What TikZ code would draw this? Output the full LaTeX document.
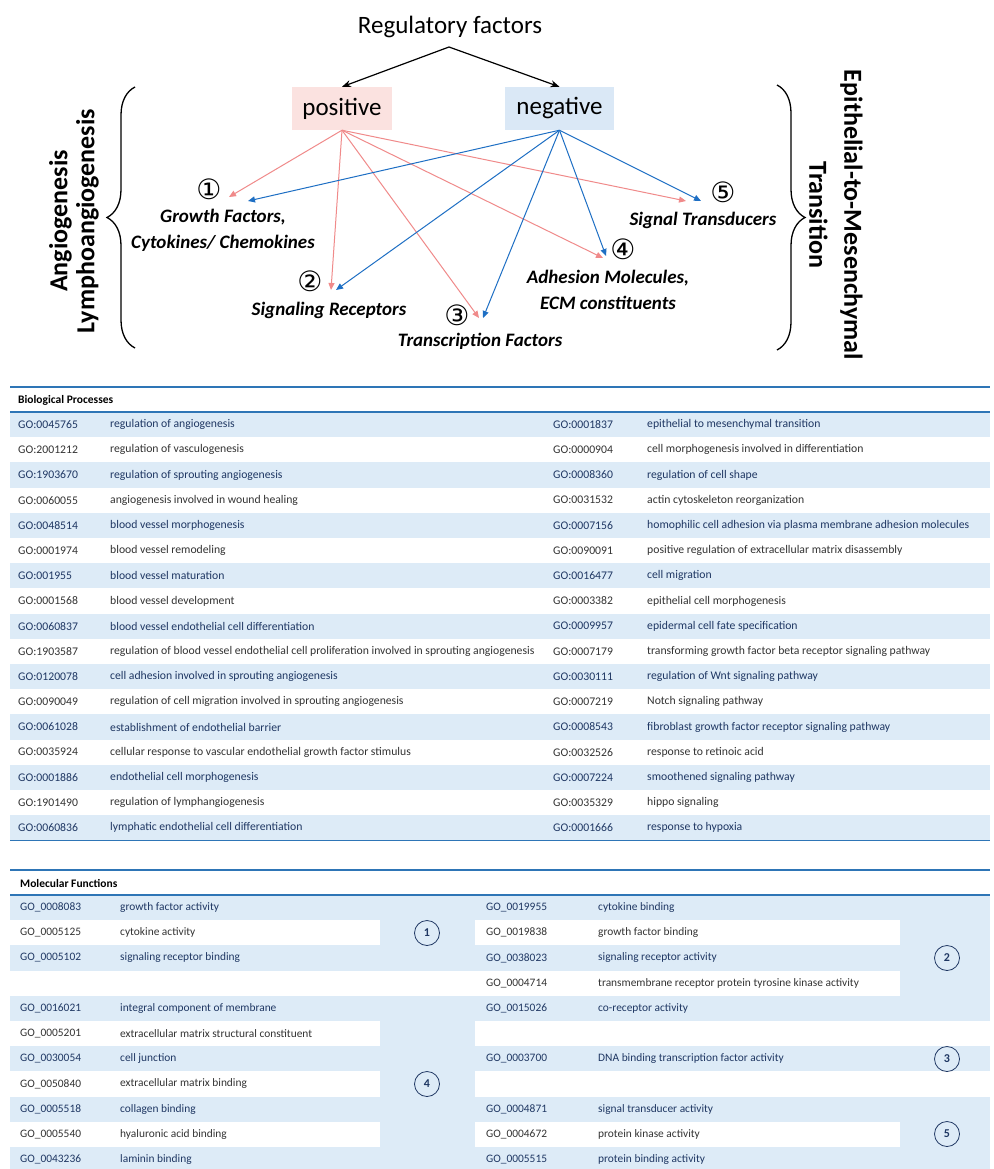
\documentclass[tikz,border=0pt]{standalone}
\usepackage{fontspec}
\setmainfont{Carlito}
\newfontfamily\dejavu{DejaVu Sans}
\usetikzlibrary{arrows.meta,decorations.pathreplacing}
\definecolor{pinkfill}{HTML}{FBE2E0}
\definecolor{bluefill}{HTML}{DAE8F6}
\definecolor{pinkarr}{HTML}{F08A8A}
\definecolor{bluearr}{HTML}{1E6FC4}
\definecolor{rowblue}{HTML}{DDEBF7}
\definecolor{rulecol}{HTML}{2E75B6}
\definecolor{navytxt}{HTML}{1F3763}
\definecolor{graytxt}{HTML}{333333}
\tikzset{
  regtxt/.style={font=\fontsize{25}{30}\selectfont, inner sep=0},
  regbox/.style={font=\fontsize{25}{30}\selectfont, minimum height=43pt, inner sep=0},
  circnum/.style={font=\dejavu\fontsize{28}{28}\selectfont, inner sep=0, text height=21pt, text depth=1pt},
  lbl/.style={font=\fontsize{19}{26}\selectfont\bfseries\itshape, align=center, inner sep=0},
  sidetxt/.style={font=\fontsize{26}{27}\selectfont\bfseries, align=center, inner sep=0},
  parr/.style={draw=pinkarr, line width=1pt, -{Triangle[length=7pt,width=6pt]}},
  narr/.style={draw=bluearr, line width=1pt, -{Triangle[length=7pt,width=6pt]}},
  karr/.style={draw=black, line width=1.2pt, -{Stealth[length=9pt,width=7pt]}},
  brc/.style={decorate, decoration={brace, amplitude=28pt}, line width=1.3pt},
  tcell/.style={font=\fontsize{11.7}{13}\selectfont, anchor=west, inner sep=0},
  mcell/.style={font=\fontsize{11.4}{13}\selectfont, anchor=west, inner sep=0},
  hdr/.style={font=\fontsize{11.5}{13}\selectfont\bfseries, anchor=west, inner sep=0},
  bluerule/.style={draw=rulecol, line width=1.6pt},
  mfc/.style={draw=navytxt, line width=0.8pt, circle, minimum size=25pt, inner sep=0, text=navytxt, font=\fontsize{12}{13}\selectfont\bfseries},
}
\begin{document}
\begin{tikzpicture}[x=1pt,y=-1pt]
\useasboundingbox (0,0) rectangle (993,1169);
\fill[white] (0,0) rectangle (993,1169);

% ---------- top diagram ----------
\node[regtxt] (rf) at (450,27) {Regulatory factors};
\coordinate (split) at (449,47);
\node[regbox, fill=pinkfill, minimum width=100pt] (pos) at (342,108.5) {positive};
\node[regbox, fill=bluefill, minimum width=109pt] (neg) at (559.5,108.5) {negative};
\draw[karr] (split) -- (pos.north);
\draw[karr] (split) -- (neg.north);

\node[sidetxt, rotate=90] (angio) at (74,221) {Angiogenesis\\Lymphoangiogenesis};
\node[sidetxt, rotate=-90, font=\fontsize{26}{35}\selectfont\bfseries] (emt) at (836,215) {Epithelial-to-Mesenchymal\\Transition};
\coordinate (lbA) at (135,348);
\coordinate (lbB) at (135,87);
\draw[brc] (lbA) -- (lbB);
\coordinate (rbA) at (777,85);
\coordinate (rbB) at (777,350);
\draw[brc] (rbA) -- (rbB);

\node[circnum] (n1) at (209,190) {①};
\node[circnum] (n2) at (310,281) {②};
\node[circnum] (n3) at (457,315) {③};
\node[circnum] (n4) at (623,249) {④};
\node[circnum] (n5) at (723,192) {⑤};
\node[lbl] (l1) at (223,230) {Growth Factors,\\Cytokines/ Chemokines};
\node[lbl] (l2) at (329,310) {Signaling Receptors};
\node[lbl] (l3) at (480,341) {Transcription Factors};
\node[lbl] (l4) at (608,290) {Adhesion Molecules,\\ECM constituents};
\node[lbl] (l5) at (703,220) {Signal Transducers};

\coordinate (p1) at (229,197);
\coordinate (p2) at (331,290);
\coordinate (p3) at (479,318);
\coordinate (p4) at (603,258);
\coordinate (p5) at (686,201);
\coordinate (q1) at (248,201);
\coordinate (q2) at (336,290);
\coordinate (q3) at (483,318);
\coordinate (q4) at (606,256);
\coordinate (q5) at (701,201);
\foreach \k in {1,...,5} {\draw[parr] (pos.south) -- (p\k);}
\foreach \k in {1,...,5} {\draw[narr] (neg.south) -- (q\k);}

% ---------- Biological Processes ----------
\draw[bluerule] (10,387) -- (990,387);
\node[hdr] (bphdr) at (18,400) {Biological Processes};
\foreach \i/\ga/\da/\gb/\db in {
0/GO:0045765/{regulation of angiogenesis}/GO:0001837/{epithelial to mesenchymal transition},
1/GO:2001212/{regulation of vasculogenesis}/GO:0000904/{cell morphogenesis involved in differentiation},
2/GO:1903670/{regulation of sprouting angiogenesis}/GO:0008360/{regulation of cell shape},
3/GO:0060055/{angiogenesis involved in wound healing}/GO:0031532/{actin cytoskeleton reorganization},
4/GO:0048514/{blood vessel morphogenesis}/GO:0007156/{homophilic cell adhesion via plasma membrane adhesion molecules},
5/GO:0001974/{blood vessel remodeling}/GO:0090091/{positive regulation of extracellular matrix disassembly},
6/GO:001955/{blood vessel maturation}/GO:0016477/{cell migration},
7/GO:0001568/{blood vessel development}/GO:0003382/{epithelial cell morphogenesis},
8/GO:0060837/{blood vessel endothelial cell differentiation}/GO:0009957/{epidermal cell fate specification},
9/GO:1903587/{regulation of blood vessel endothelial cell proliferation involved in sprouting angiogenesis}/GO:0007179/{transforming growth factor beta receptor signaling pathway},
10/GO:0120078/{cell adhesion involved in sprouting angiogenesis}/GO:0030111/{regulation of Wnt signaling pathway},
11/GO:0090049/{regulation of cell migration involved in sprouting angiogenesis}/GO:0007219/{Notch signaling pathway},
12/GO:0061028/{establishment of endothelial barrier}/GO:0008543/{fibroblast growth factor receptor signaling pathway},
13/GO:0035924/{cellular response to vascular endothelial growth factor stimulus}/GO:0032526/{response to retinoic acid},
14/GO:0001886/{endothelial cell morphogenesis}/GO:0007224/{smoothened signaling pathway},
15/GO:1901490/{regulation of lymphangiogenesis}/GO:0035329/{hippo signaling},
16/GO:0060836/{lymphatic endothelial cell differentiation}/GO:0001666/{response to hypoxia}} {
  \pgfmathsetmacro\yt{412+25.2*\i}
  \pgfmathsetmacro\yc{\yt+12.6}
  \pgfmathtruncatemacro\odd{mod(\i,2)}
  \ifnum\odd=0
    \fill[rowblue] (10,\yt) rectangle (990,\yt+25.2);
    \def\tc{navytxt}
  \else
    \def\tc{graytxt}
  \fi
  \node[tcell, text=\tc] (bpga\i) at (18,\yc) {\ga};
  \node[tcell, text=\tc] (bpda\i) at (110,\yc) {\da};
  \node[tcell, text=\tc] (bpgb\i) at (553,\yc) {\gb};
  \node[tcell, text=\tc] (bpdb\i) at (647,\yc) {\db};
}
\draw[bluerule] (10,412) -- (990,412);
\draw[bluerule] (10,840.4) -- (990,840.4);

% ---------- Molecular Functions ----------
\draw[bluerule] (10,870) -- (990,870);
\node[hdr] (mfhdr) at (20,883) {Molecular Functions};
\fill[rowblue] (10,895) rectangle (990,1169);
% white boxes
\foreach \r in {1,5,7,9} {\fill[white] (10,895+25.2*\r) rectangle (380,895+25.2*\r+25.2);}
\fill[white] (10,895+25.2*3) rectangle (900,895+25.2*4);
\foreach \r in {1,9} {\fill[white] (475,895+25.2*\r) rectangle (900,895+25.2*\r+25.2);}
\foreach \r in {5,7} {\fill[white] (475,895+25.2*\r) rectangle (990,895+25.2*\r+25.2);}
\draw[bluerule] (10,895) -- (990,895);

\foreach \i/\g/\d in {
0/GO\_0008083/{growth factor activity},
1/GO\_0005125/{cytokine activity},
2/GO\_0005102/{signaling receptor binding},
4/GO\_0016021/{integral component of membrane},
5/GO\_0005201/{extracellular matrix structural constituent},
6/GO\_0030054/{cell junction},
7/GO\_0050840/{extracellular matrix binding},
8/GO\_0005518/{collagen binding},
9/GO\_0005540/{hyaluronic acid binding},
10/GO\_0043236/{laminin binding}} {
  \pgfmathsetmacro\yc{895+25.2*\i+12.6}
  \pgfmathtruncatemacro\odd{mod(\i,2)}
  \ifnum\odd=0 \def\tc{navytxt}\else\def\tc{graytxt}\fi
  \node[mcell, text=\tc] (mfga\i) at (20,\yc) {\g};
  \node[mcell, text=\tc] (mfda\i) at (120,\yc) {\d};
}
\foreach \i/\g/\d in {
0/GO\_0019955/{cytokine binding},
1/GO\_0019838/{growth factor binding},
2/GO\_0038023/{signaling receptor activity},
3/GO\_0004714/{transmembrane receptor protein tyrosine kinase activity},
4/GO\_0015026/{co-receptor activity},
6/GO\_0003700/{DNA binding transcription factor activity},
8/GO\_0004871/{signal transducer activity},
9/GO\_0004672/{protein kinase activity},
10/GO\_0005515/{protein binding activity}} {
  \pgfmathsetmacro\yc{895+25.2*\i+12.6}
  \pgfmathtruncatemacro\odd{mod(\i,2)}
  \ifnum\odd=0 \def\tc{navytxt}\else\def\tc{graytxt}\fi
  \node[mcell, text=\tc] (mfgb\i) at (486,\yc) {\g};
  \node[mcell, text=\tc] (mfdb\i) at (598,\yc) {\d};
}
\node[mfc] (m1) at (427,933) {1};
\node[mfc] (m4) at (427,1084) {4};
\node[mfc] (m2) at (947,958) {2};
\node[mfc] (m3) at (947,1059) {3};
\node[mfc] (m5) at (947,1134) {5};
\end{tikzpicture}
\end{document}
